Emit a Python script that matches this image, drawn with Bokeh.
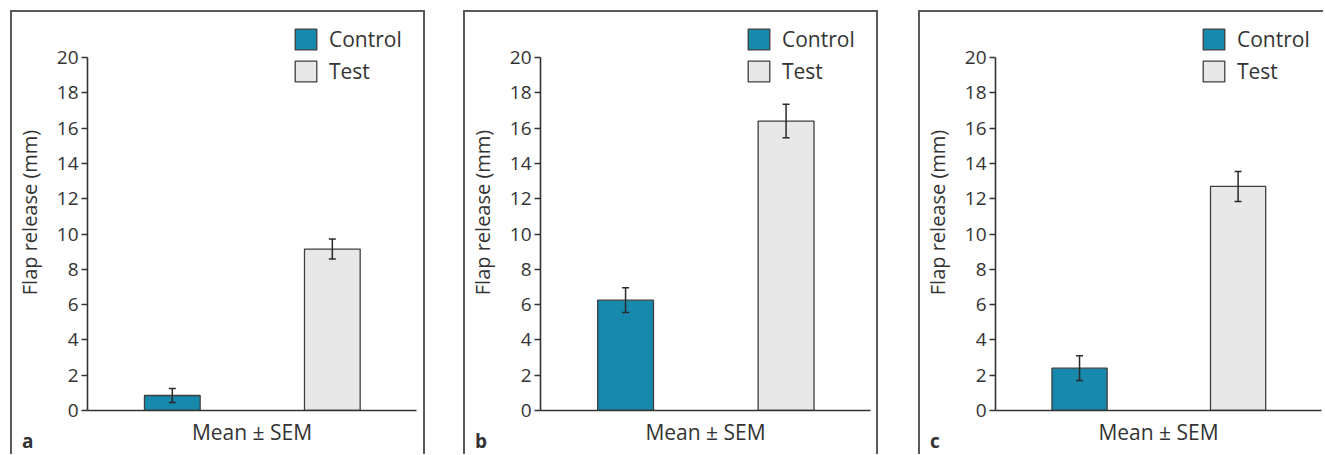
from bokeh.plotting import figure
from bokeh.models import Range1d, ColumnDataSource, Whisker, TeeHead, FixedTicker, Div
from bokeh.layouts import row, column
from bokeh.embed import file_html
from bokeh.resources import INLINE

# ---- data ----
panels = ["a", "b", "c"]
groups = ["Control", "Test"]
control_mean = [0.85, 6.25, 2.4]
control_sem = [0.4, 0.7, 0.7]
test_mean = [9.15, 16.4, 12.7]
test_sem = [0.57, 0.95, 0.85]
y_ticks = [0, 2, 4, 6, 8, 10, 12, 14, 16, 18, 20]
x_label = "Mean ± SEM"
y_label = "Flap release (mm)"

# ---- style ----
FONT = "Open Sans"
TXT = "#333333"
CONTROL_COLOR = "#1689ad"
TEST_COLOR = "#e8e8e8"
EDGE = "#3f3f3f"
BOX = "2px solid #5a5a5a"


def make_panel(i, width, margin_left, mbl, mbr, right_border=True):
    p = figure(width=width, height=441, output_backend="svg", toolbar_location=None,
               x_range=Range1d(-0.53, 1.526), y_range=Range1d(0, 22.44),
               min_border_left=mbl, min_border_right=mbr,
               min_border_top=2, min_border_bottom=43)
    p.margin = 0
    p.outline_line_color = None
    p.xgrid.visible = False
    p.ygrid.visible = False
    p.background_fill_color = "white"
    p.border_fill_color = "white"

    xs = list(range(len(groups)))
    means = [control_mean[i], test_mean[i]]
    sems = [control_sem[i], test_sem[i]]
    src = ColumnDataSource(dict(
        x=xs, top=means, name=groups,
        upper=[m + s for m, s in zip(means, sems)],
        lower=[m - s for m, s in zip(means, sems)],
        color=[CONTROL_COLOR, TEST_COLOR],
    ))
    p.vbar(x="x", top="top", bottom=0, width=0.348, source=src,
           fill_color="color", line_color=EDGE, line_width=1.3,
           legend_field="name")

    w = Whisker(base="x", upper="upper", lower="lower", source=src,
                line_color="#2a2a2a", line_width=1.5,
                upper_head=TeeHead(size=7, line_color="#2a2a2a", line_width=1.5),
                lower_head=TeeHead(size=7, line_color="#2a2a2a", line_width=1.5))
    w.level = "overlay"
    p.add_layout(w)

    # axes
    xa = p.xaxis[0]
    xa.ticker = FixedTicker(ticks=[])
    xa.major_tick_line_color = None
    xa.minor_tick_line_color = None
    xa.major_label_text_font_size = "0px"
    xa.major_label_standoff = 0
    xa.axis_line_color = "#333333"
    xa.axis_line_width = 1.6
    xa.axis_label = x_label
    xa.axis_label_text_font = FONT
    xa.axis_label_text_font_size = "21px"
    xa.axis_label_text_font_style = "normal"
    xa.axis_label_text_color = TXT
    xa.axis_label_standoff = 7

    ya = p.yaxis[0]
    ya.ticker = FixedTicker(ticks=y_ticks)
    ya.bounds = (0, 20)
    ya.axis_line_color = "#333333"
    ya.axis_line_width = 1.6
    ya.major_tick_out = 6
    ya.major_tick_in = 0
    ya.major_tick_line_color = "#333333"
    ya.major_tick_line_width = 1.3
    ya.minor_tick_line_color = None
    ya.major_label_text_font = FONT
    ya.major_label_text_font_size = "19px"
    ya.major_label_text_color = TXT
    ya.major_label_standoff = 3
    ya.axis_label = y_label
    ya.axis_label_text_font = FONT
    ya.axis_label_text_font_size = "20px"
    ya.axis_label_text_font_style = "normal"
    ya.axis_label_text_color = TXT
    ya.axis_label_standoff = 11

    lg = p.legend[0]
    lg.location = (205, 325)
    lg.margin = 0
    lg.padding = 0
    lg.border_line_color = None
    lg.background_fill_alpha = 0
    lg.glyph_width = 27
    lg.glyph_height = 26
    lg.label_height = 22
    lg.spacing = 4
    lg.label_standoff = 10
    lg.label_text_font = FONT
    lg.label_text_font_size = "21px"
    lg.label_text_color = TXT

    # panel letter (HTML text) overlapping the bottom-left corner of the panel
    letter = Div(text=panels[i], width=30, height=25,
                 styles={"font-family": FONT, "font-size": "19px", "font-weight": "bold",
                         "color": TXT, "line-height": "25px"})
    letter.margin = (-24, 0, 0, 10)

    box = column(p, letter)
    styles = {"border-left": BOX, "border-top": BOX}
    if right_border:
        styles["border-right"] = BOX
    box.styles = styles
    box.margin = (10, 0, 0, margin_left)
    box.spacing = 0
    return box


pa = make_panel(0, 411, 10, 73, 7)
pb = make_panel(1, 411, 38, 74, 6)
pc = make_panel(2, 403, 40, 70, 2, right_border=False)

layout = row(pa, pb, pc)
open("out.html", "w").write(file_html(layout, INLINE))
